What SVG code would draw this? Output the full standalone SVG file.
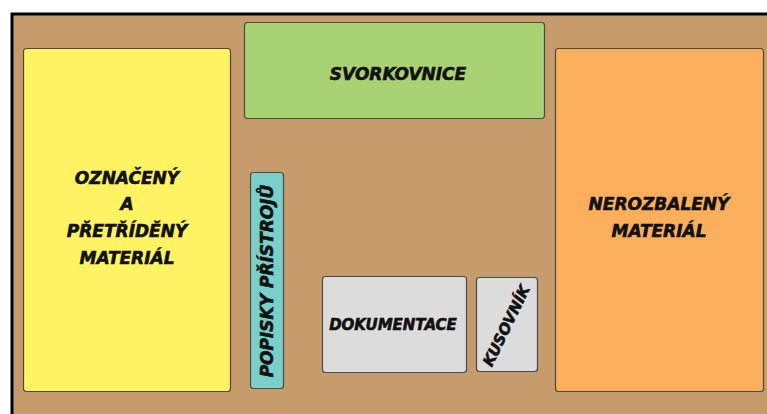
<svg xmlns="http://www.w3.org/2000/svg" width="767" height="414" viewBox="0 0 767 414">
<style>
.box{stroke:#4a4a4a;stroke-width:1.2}
.t{font-family:"DejaVu Sans",sans-serif;font-weight:bold;font-style:italic;font-size:17px;fill:#111;stroke:#111;stroke-width:0.6;text-anchor:middle}
.s{font-size:15px}
</style>
<rect x="12" y="14" width="800" height="500" fill="#C69C6D" stroke="#000" stroke-width="3"/>
<g id="oznaceny">
<rect class="box" x="23.5" y="48.5" width="207" height="343" rx="3" fill="#FFF263"/>
<text class="t"><tspan x="127" y="184">OZNAČENÝ</tspan><tspan x="127" y="210">A</tspan><tspan x="127" y="237">PŘETŘÍDĚNÝ</tspan><tspan x="127" y="264">MATERIÁL</tspan></text>
</g>
<g id="svorkovnice">
<rect class="box" x="244.5" y="22.5" width="300" height="96" rx="3" fill="#A9D273"/>
<text class="t" x="398" y="80">SVORKOVNICE</text>
</g>
<g id="nerozbaleny">
<rect class="box" x="555.5" y="48.5" width="208" height="343" rx="3" fill="#FBAE5C"/>
<text class="t"><tspan x="659" y="210">NEROZBALENÝ</tspan><tspan x="659" y="237">MATERIÁL</tspan></text>
</g>
<g id="popisky">
<rect class="box" x="250.5" y="172.5" width="33" height="216" rx="3" fill="#7ACFC9"/>
<text class="t" transform="translate(273,281) rotate(-90)">POPISKY PŘÍSTROJŮ</text>
</g>
<g id="dokumentace">
<rect class="box" x="322.5" y="276.5" width="144" height="96" rx="3" fill="#DCDCDC"/>
<text class="t s" x="393" y="330">DOKUMENTACE</text>
</g>
<g id="kusovnik">
<rect class="box" x="476.5" y="277.5" width="61" height="94" rx="3" fill="#DCDCDC"/>
<text class="t s" transform="translate(511,328) rotate(-64)">KUSOVNÍK</text>
</g>
<g id="connectors"/>
</svg>
